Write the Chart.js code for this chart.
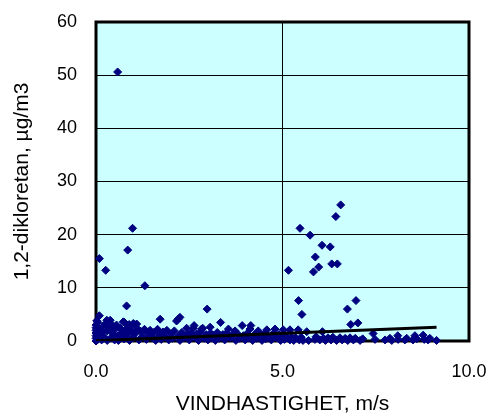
<!DOCTYPE html>
<html>
<head>
<meta charset="utf-8">
<title>1,2-dikloretan mot vindhastighet</title>
<script src="https://cdn.jsdelivr.net/npm/chart.js@4"></script>
<style>
    body { margin: 0; background: #fff; }
    #wrap { width: 494px; height: 420px; }
</style>
</head>
<body>
<div id="wrap"><canvas id="scatter" width="494" height="420"></canvas></div>
<script>
// Vindhastighet (m/s) och uppmätt halt (µg/m3), en rad per område
const windSpeed = [
    0, 0, 0, 0, 0, 0, 0, 0.05, 0.02, 0.05, 0.08, 0.08, 0.1,
    0.15, 0.15, 0.2, 0.2, 0.25, 0.29, 0.3, 0.3, 0.35, 0.38, 0.4, 0.45, 0.45, 0.5, 0.5,
    0.55, 0.6, 0.6, 0.65, 0.7, 0.73, 0.75, 0.8, 0.85, 0.9, 0.9, 0.95, 1.0, 1.0,
    1.05, 1.1, 1.15, 1.2, 1.25, 1.3, 1.35, 1.4, 1.45, 1.5,
    1.55, 1.6, 1.65, 1.7, 1.72, 1.75, 1.8, 1.85, 1.9, 1.95, 2.0,
    2.05, 2.1, 2.16, 2.2, 2.25, 2.2, 2.25, 2.3, 2.35, 2.43, 2.45, 2.5,
    2.55, 2.61, 2.63, 2.65, 2.7, 2.75, 2.8, 2.83, 2.86, 2.9, 2.95, 2.98, 3.0,
    3.06, 3.07, 3.1, 3.15, 3.2, 3.25, 3.3, 3.34, 3.4, 3.45, 3.5,
    3.55, 3.6, 3.65, 3.73, 3.75, 3.8, 3.85, 3.92, 3.95, 4.0,
    4.05, 4.1, 4.13, 4.15, 4.2, 4.25, 4.3, 4.35, 4.4, 4.45, 4.5,
    4.55, 4.58, 4.6, 4.7, 4.75, 4.8, 4.85, 4.9, 4.95, 5.0,
    5.02, 5.05, 5.1, 5.16, 5.2, 5.2, 5.25, 5.3, 5.35, 5.42, 5.43, 5.45, 5.47, 5.5, 5.52, 5.55,
    5.65, 5.7, 5.74, 5.83, 5.87, 5.88, 5.9, 5.97, 6.0, 6.06, 6.07, 6.1, 6.15, 6.22, 6.28, 6.3, 6.32, 6.35,
    6.43, 6.45, 6.47, 6.54, 6.56, 6.6, 6.68, 6.74, 6.75, 6.81, 6.83, 6.9, 6.95, 6.97, 7.02, 7.08, 7.15,
    7.43, 7.48, 7.75, 7.88, 7.93, 8.09, 8.1, 8.28, 8.33, 8.5, 8.55, 8.6, 8.77, 8.8, 8.9, 8.95, 9.13,
    0.58, 0.98, 0.85, 0.09, 0.26, 1.31, 0.82, 0.09, 1.09, 0.76, 0.89
];
const concentration = [
    0, 0.5, 1, 1.5, 2, 2.5, 3, 3.5, 3.8, 0.3, 1.2, 2.2, 0.8,
    0.2, 1.6, 2.8, 0.9, 3.2, 3.9, 0.1, 1.9, 2.5, 3.9, 0.6, 1.4, 2.9, 0.2, 2.1,
    3.0, 1.0, 0.1, 2.4, 1.6, 3.6, 0.4, 2.2, 1.2, 0.1, 2.7, 1.8, 3.3, 0.6,
    1.4, 2.4, 0.2, 1.8, 0.9, 2.2, 0.3, 1.5, 2.0, 0.7,
    1.6, 0.1, 2.2, 1.0, 4.1, 0.3, 1.7, 0.8, 2.0, 0.2, 1.3,
    0.5, 1.9, 3.76, 4.1, 4.45, 0.9, 0.1, 1.6, 0.6, 2.4, 1.2, 0.2,
    1.5, 2.4, 2.9, 0.7, 1.3, 0.1, 1.7, 2.25, 2.4, 0.5, 1.2, 6.0, 0.2,
    2.6, 1.5, 0.6, 1.1, 0.1, 1.6, 0.5, 3.5, 1.2, 0.2, 1.5,
    2.25, 0.6, 1.1, 1.9, 0.1, 1.3, 0.5, 2.9, 1.0, 0.2,
    1.4, 0.6, 2.25, 2.9, 0.1, 1.2, 0.5, 1.9, 0.9, 0.1, 1.3,
    0.4, 2.1, 1.0, 0.2, 1.4, 2.25, 0.6, 1.2, 0.1, 0.8,
    2.1, 0.3, 1.0, 13.3, 2.1, 0.2, 0.7, 0.1, 0.6, 2.1, 7.6, 0.2, 21.2, 0.7, 5.0, 0.1,
    1.75, 0.1, 19.9, 13.0, 0.3, 15.8, 0.8, 13.9, 0.2, 18.0, 1.75, 0.5, 0.1, 0.6, 17.7, 0.2, 14.5, 0.7,
    23.4, 0.1, 14.5, 0.6, 25.6, 0.2, 0.5, 6.0, 0.1, 0.6, 3.1, 0.2, 0.5, 7.6, 3.4, 0.1, 0.4,
    1.4, 0.3, 0.2, 0.5, 0.1, 1.0, 0.3, 0.2, 0.5, 0.2, 1.0, 0.4, 1.1, 0.3, 0.2, 0.5, 0.1,
    50.6, 21.2, 17.1, 15.5, 13.3, 10.4, 6.6, 4.75, 3.2, 3.5, 3.1
];

// Linjär trend, ändpunkter
const trendX = [0, 9.13];
const trendY = [0.05, 2.6];

const xTicks = [0, 5, 10];
const yMax = 60;

const FONT = "'Liberation Sans', Arial, sans-serif";

// ljusblå bakgrund i diagramytan och ram runt den
const plotBackground = {
    id: 'plotBackground',
    beforeDraw(chart) {
        const { ctx, chartArea: a } = chart;
        ctx.save();
        ctx.fillStyle = '#ccffff';
        ctx.fillRect(a.left, a.top, a.right - a.left, a.bottom - a.top);
        ctx.restore();
    },
    beforeDatasetsDraw(chart) {
        const { ctx, chartArea: a } = chart;
        ctx.save();
        ctx.strokeStyle = '#000';
        ctx.lineWidth = 3;
        ctx.strokeRect(a.left, a.top, a.right - a.left, a.bottom - a.top);
        ctx.restore();
    }
};

const scatterPoints = windSpeed.map((x, i) => ({ x: x, y: concentration[i] }));
const trendPoints = trendX.map((x, i) => ({ x: x, y: trendY[i] }));

new Chart(document.getElementById('scatter'), {
    type: 'scatter',
    data: {
        datasets: [{
            type: 'line',
            data: trendPoints,
            borderColor: '#000',
            borderWidth: 3,
            pointRadius: 0,
            fill: false,
            order: 0
        }, {
            data: scatterPoints,
            pointStyle: 'rectRot',
            pointRadius: 4,
            pointBackgroundColor: '#000080',
            pointBorderColor: '#000080',
            pointBorderWidth: 1,
            clip: false,
            order: 1
        }]
    },
    options: {
        responsive: false,
        animation: false,
        layout: { padding: { top: 22, right: 25, left: 0, bottom: 0 } },
        plugins: {
            legend: { display: false },
            tooltip: { enabled: false }
        },
        scales: {
            x: {
                type: 'linear',
                min: 0,
                max: 10,
                afterFit: s => {
                    s.height = 79;
                    s.paddingLeft = 0;
                    s.paddingRight = 0;
                },
                afterBuildTicks: s => { s.ticks = xTicks.map(v => ({ value: v })); },
                grid: { color: '#000', lineWidth: 1, drawTicks: false },
                border: { display: false },
                ticks: {
                    color: '#000',
                    padding: 20,
                    font: { family: FONT, size: 18 },
                    callback: v => v.toFixed(1)
                },
                title: {
                    display: true,
                    text: 'VINDHASTIGHET, m/s',
                    color: '#000',
                    font: { family: FONT, size: 21 },
                    padding: { top: 0, bottom: 3 }
                }
            },
            y: {
                min: 0,
                max: yMax,
                afterFit: s => {
                    s.width = 96;
                    s.paddingTop = 0;
                    s.paddingBottom = 0;
                },
                grid: { color: '#000', lineWidth: 1, drawTicks: false },
                border: { display: false },
                ticks: {
                    stepSize: 10,
                    color: '#000',
                    padding: 19,
                    font: { family: FONT, size: 18 }
                },
                title: {
                    display: true,
                    text: '1,2-dikloretan, µg/m3',
                    color: '#000',
                    font: { family: FONT, size: 21 },
                    padding: { top: 10, bottom: 0 }
                }
            }
        }
    },
    plugins: [plotBackground]
});
</script>
</body>
</html>
